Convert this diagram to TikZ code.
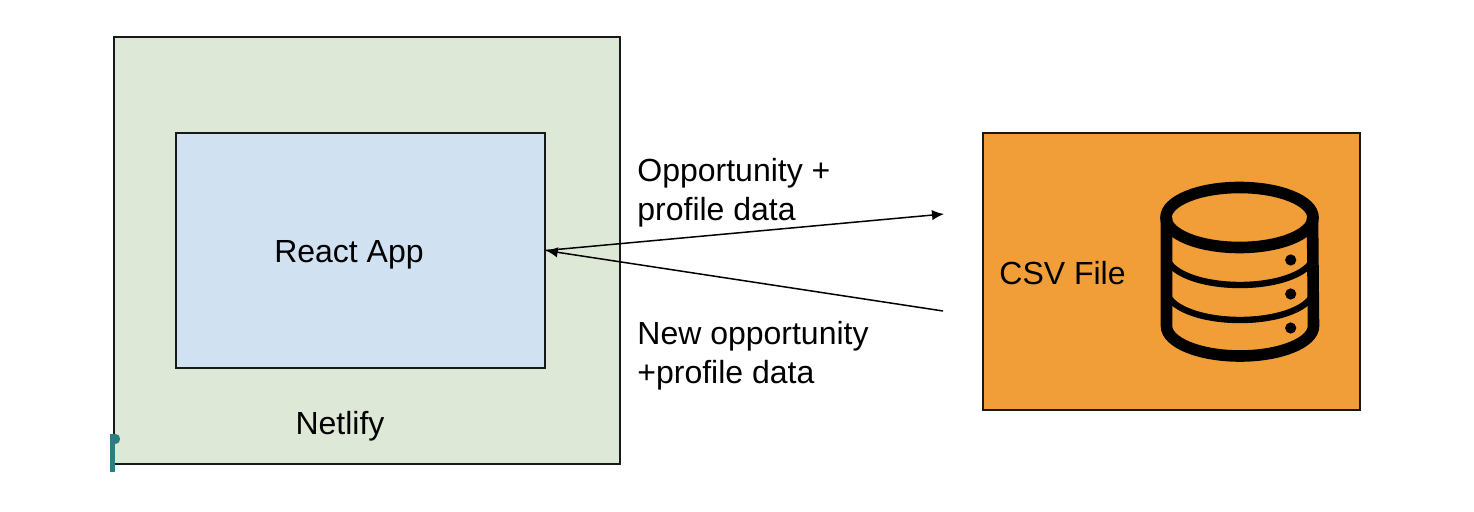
\documentclass[tikz,border=0pt]{standalone}
\usepackage{fontspec}
\setmainfont{Liberation Sans}
\usepackage{xcolor}
\usetikzlibrary{arrows.meta, positioning}
\definecolor{hostgreen}{RGB}{222,232,214}
\definecolor{appblue}{RGB}{208,225,241}
\definecolor{fileorange}{RGB}{242,158,56}
\definecolor{markteal}{RGB}{46,125,133}
\tikzset{
  box/.style={rectangle, draw=black!90, line width=0.7pt, inner sep=0pt},
  lbl/.style={font=\fontsize{16}{19.5}\selectfont, text=black, inner sep=0pt},
  arr/.style={-{Latex[length=6pt,width=5.2pt]}, line width=0.75pt, color=black},
  wall/.style={line width=5.8pt, color=black},
  band/.style={line width=3.2pt, color=black}
}
\begin{document}
\begin{tikzpicture}[x=0.5pt, y=-0.5pt]
  \useasboundingbox (0,0) rectangle (1474,512);

  % Boxes
  \node[box, fill=hostgreen, minimum width=253pt, minimum height=213.5pt] (netlify) at (367,250.5) {};
  \node[box, fill=appblue, minimum width=184.5pt, minimum height=117.5pt] (react) at (360.5,250.5) {};
  \node[box, fill=fileorange, minimum width=188.5pt, minimum height=138.5pt] (csv) at (1171.5,271.5) {};

  % Box labels
  \node[lbl] (reactlbl) at (349,255) {React App};
  \node[lbl] (netlifylbl) at (340,426) {Netlify};
  \node[lbl, anchor=west] (csvlbl) at (999,273) {CSV File};

  % Arrow labels
  \node[lbl, anchor=north west, align=left] (outlbl) at (637,158) {Opportunity +\\profile data};
  \node[lbl, anchor=north west, align=left] (inlbl) at (637,321) {New opportunity\\+profile data};

  % Free arrow ends
  \coordinate (outend) at (944,214);
  \coordinate (instart) at (943,311);

  % Arrows
  \draw[arr] (react.east) -- (outend);
  \draw[arr] (instart) -- (react.east);

  % Database icon
  \draw[wall] (1239.5,217.5) ellipse [x radius=36.75pt, y radius=15pt];
  \draw[wall] (1166.5,217.5) -- (1166.5,326)
    arc[start angle=180, end angle=360, x radius=36.75pt, y radius=15pt] -- (1312.5,217.5);
  \draw[band] (1166.5,255) arc[start angle=180, end angle=360, x radius=36.75pt, y radius=15pt];
  \draw[band] (1166.5,290) arc[start angle=180, end angle=360, x radius=36.75pt, y radius=15pt];
  \foreach \y in {260,294,328}
    \fill (1290.7,\y) circle (2.8pt);

  % Corner mark
  \fill[markteal] (110,434) rectangle (114.5,472);
  \fill[markteal] (115,439) circle (2.6pt);
\end{tikzpicture}
\end{document}
